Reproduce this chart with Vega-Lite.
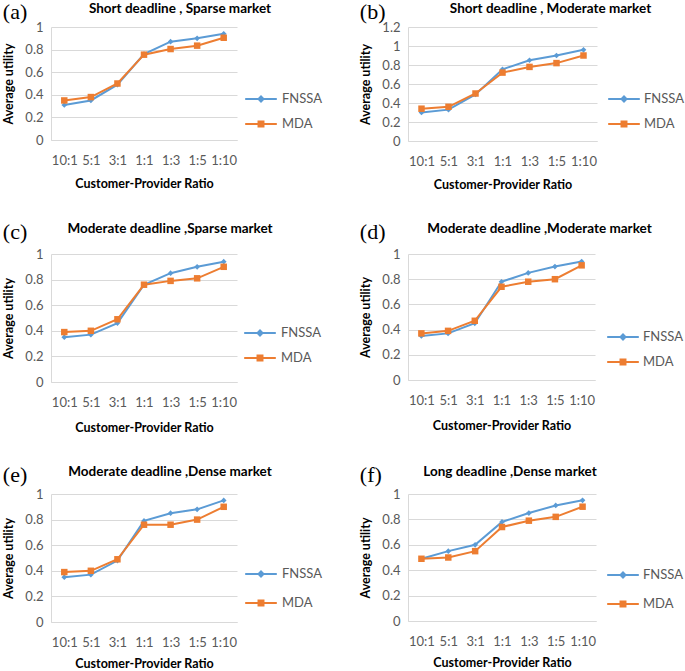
{
  "$schema": "https://vega.github.io/schema/vega-lite/v6.json",
  "background": "white",
  "padding": {"left": 2, "top": 0, "right": 0, "bottom": 0},
  "datasets": {
    "a": [
      {"ratio": "10:1", "method": "FNSSA", "utility": 0.31}, {"ratio": "5:1", "method": "FNSSA", "utility": 0.35}, {"ratio": "3:1", "method": "FNSSA", "utility": 0.49}, {"ratio": "1:1", "method": "FNSSA", "utility": 0.76}, {"ratio": "1:3", "method": "FNSSA", "utility": 0.87}, {"ratio": "1:5", "method": "FNSSA", "utility": 0.90}, {"ratio": "1:10", "method": "FNSSA", "utility": 0.94},
      {"ratio": "10:1", "method": "MDA", "utility": 0.35}, {"ratio": "5:1", "method": "MDA", "utility": 0.38}, {"ratio": "3:1", "method": "MDA", "utility": 0.50}, {"ratio": "1:1", "method": "MDA", "utility": 0.755}, {"ratio": "1:3", "method": "MDA", "utility": 0.805}, {"ratio": "1:5", "method": "MDA", "utility": 0.835}, {"ratio": "1:10", "method": "MDA", "utility": 0.905}
    ],
    "b": [
      {"ratio": "10:1", "method": "FNSSA", "utility": 0.30}, {"ratio": "5:1", "method": "FNSSA", "utility": 0.33}, {"ratio": "3:1", "method": "FNSSA", "utility": 0.49}, {"ratio": "1:1", "method": "FNSSA", "utility": 0.755}, {"ratio": "1:3", "method": "FNSSA", "utility": 0.85}, {"ratio": "1:5", "method": "FNSSA", "utility": 0.90}, {"ratio": "1:10", "method": "FNSSA", "utility": 0.96},
      {"ratio": "10:1", "method": "MDA", "utility": 0.34}, {"ratio": "5:1", "method": "MDA", "utility": 0.36}, {"ratio": "3:1", "method": "MDA", "utility": 0.50}, {"ratio": "1:1", "method": "MDA", "utility": 0.72}, {"ratio": "1:3", "method": "MDA", "utility": 0.78}, {"ratio": "1:5", "method": "MDA", "utility": 0.82}, {"ratio": "1:10", "method": "MDA", "utility": 0.90}
    ],
    "c": [
      {"ratio": "10:1", "method": "FNSSA", "utility": 0.35}, {"ratio": "5:1", "method": "FNSSA", "utility": 0.37}, {"ratio": "3:1", "method": "FNSSA", "utility": 0.46}, {"ratio": "1:1", "method": "FNSSA", "utility": 0.76}, {"ratio": "1:3", "method": "FNSSA", "utility": 0.85}, {"ratio": "1:5", "method": "FNSSA", "utility": 0.90}, {"ratio": "1:10", "method": "FNSSA", "utility": 0.94},
      {"ratio": "10:1", "method": "MDA", "utility": 0.39}, {"ratio": "5:1", "method": "MDA", "utility": 0.40}, {"ratio": "3:1", "method": "MDA", "utility": 0.49}, {"ratio": "1:1", "method": "MDA", "utility": 0.76}, {"ratio": "1:3", "method": "MDA", "utility": 0.79}, {"ratio": "1:5", "method": "MDA", "utility": 0.81}, {"ratio": "1:10", "method": "MDA", "utility": 0.90}
    ],
    "d": [
      {"ratio": "10:1", "method": "FNSSA", "utility": 0.35}, {"ratio": "5:1", "method": "FNSSA", "utility": 0.37}, {"ratio": "3:1", "method": "FNSSA", "utility": 0.45}, {"ratio": "1:1", "method": "FNSSA", "utility": 0.78}, {"ratio": "1:3", "method": "FNSSA", "utility": 0.85}, {"ratio": "1:5", "method": "FNSSA", "utility": 0.90}, {"ratio": "1:10", "method": "FNSSA", "utility": 0.94},
      {"ratio": "10:1", "method": "MDA", "utility": 0.37}, {"ratio": "5:1", "method": "MDA", "utility": 0.39}, {"ratio": "3:1", "method": "MDA", "utility": 0.47}, {"ratio": "1:1", "method": "MDA", "utility": 0.74}, {"ratio": "1:3", "method": "MDA", "utility": 0.78}, {"ratio": "1:5", "method": "MDA", "utility": 0.80}, {"ratio": "1:10", "method": "MDA", "utility": 0.91}
    ],
    "e": [
      {"ratio": "10:1", "method": "FNSSA", "utility": 0.35}, {"ratio": "5:1", "method": "FNSSA", "utility": 0.37}, {"ratio": "3:1", "method": "FNSSA", "utility": 0.48}, {"ratio": "1:1", "method": "FNSSA", "utility": 0.79}, {"ratio": "1:3", "method": "FNSSA", "utility": 0.85}, {"ratio": "1:5", "method": "FNSSA", "utility": 0.88}, {"ratio": "1:10", "method": "FNSSA", "utility": 0.95},
      {"ratio": "10:1", "method": "MDA", "utility": 0.39}, {"ratio": "5:1", "method": "MDA", "utility": 0.40}, {"ratio": "3:1", "method": "MDA", "utility": 0.49}, {"ratio": "1:1", "method": "MDA", "utility": 0.76}, {"ratio": "1:3", "method": "MDA", "utility": 0.76}, {"ratio": "1:5", "method": "MDA", "utility": 0.80}, {"ratio": "1:10", "method": "MDA", "utility": 0.90}
    ],
    "f": [
      {"ratio": "10:1", "method": "FNSSA", "utility": 0.49}, {"ratio": "5:1", "method": "FNSSA", "utility": 0.55}, {"ratio": "3:1", "method": "FNSSA", "utility": 0.60}, {"ratio": "1:1", "method": "FNSSA", "utility": 0.78}, {"ratio": "1:3", "method": "FNSSA", "utility": 0.85}, {"ratio": "1:5", "method": "FNSSA", "utility": 0.91}, {"ratio": "1:10", "method": "FNSSA", "utility": 0.95},
      {"ratio": "10:1", "method": "MDA", "utility": 0.49}, {"ratio": "5:1", "method": "MDA", "utility": 0.50}, {"ratio": "3:1", "method": "MDA", "utility": 0.55}, {"ratio": "1:1", "method": "MDA", "utility": 0.74}, {"ratio": "1:3", "method": "MDA", "utility": 0.79}, {"ratio": "1:5", "method": "MDA", "utility": 0.82}, {"ratio": "1:10", "method": "MDA", "utility": 0.90}
    ]
  },
  "columns": 2,
  "spacing": {"column": 20, "row": 29},
  "resolve": {"scale": {"x": "independent", "y": "independent", "color": "independent", "shape": "independent", "stroke": "independent", "fill": "independent"}, "legend": {"color": "independent", "shape": "independent"}},
  "concat": [
    {
      "title": {"text": "(a)", "anchor": "start", "frame": "bounds", "font": "Liberation Serif", "fontSize": 22, "fontWeight": "normal", "offset": -22},
      "resolve": {"legend": {"color": "independent", "shape": "independent"}},
      "vconcat": [{
        "width": 186, "height": 113,
        "title": {"text": "Short deadline , Sparse market", "dx": 36, "offset": 6},
        "data": {"name": "a"},
        "encoding": {
          "x": {"field": "ratio", "type": "ordinal", "sort": ["10:1", "5:1", "3:1", "1:1", "1:3", "1:5", "1:10"], "scale": {"type": "point", "padding": 0.5}, "axis": {"title": "Customer-Provider Ratio", "labelAngle": 0, "labelPadding": 14, "titlePadding": 10, "grid": false}},
          "y": {"field": "utility", "type": "quantitative", "scale": {"domain": [0, 1]}, "axis": {"title": "Average utility", "values": [0, 0.2, 0.4, 0.6, 0.8, 1], "format": "~g", "labelPadding": 8, "titlePadding": 9}}
        },
        "layer": [
          {"mark": {"type": "line", "strokeWidth": 2}, "encoding": {"stroke": {"field": "method", "type": "nominal", "scale": {"range": ["#5B9BD5", "#ED7D31"]}, "legend": null}}},
          {"transform": [{"filter": "datum.method === 'FNSSA'"}], "mark": {"type": "point", "filled": true, "opacity": 1, "shape": "diamond", "size": 32}, "encoding": {"fill": {"field": "method", "type": "nominal", "scale": {"range": ["#5B9BD5", "#ED7D31"]}, "legend": null}}},
          {"transform": [{"filter": "datum.method === 'MDA'"}], "mark": {"type": "point", "filled": true, "opacity": 1, "shape": "square", "size": 42}, "encoding": {"fill": {"field": "method", "type": "nominal", "scale": {"range": ["#5B9BD5", "#ED7D31"]}, "legend": null}}},
          {"mark": {"type": "point", "filled": true, "opacity": 0}, "encoding": {
            "color": {"field": "method", "type": "nominal", "scale": {"domain": ["FNSSA", "MDA"], "range": ["#5B9BD5", "#ED7D31"]}, "legend": {"title": null, "symbolOpacity": 1, "symbolSize": 1000, "rowPadding": 1, "offset": -2, "labelOffset": 4, "padding": 9}},
            "shape": {"field": "method", "type": "nominal", "scale": {"domain": ["FNSSA", "MDA"], "range": ["M-1,-0.07H1V0.07H-1Z M0,-0.25L0.25,0L0,0.25L-0.25,0Z", "M-1,-0.07H1V0.07H-1Z M-0.22,-0.22H0.22V0.22H-0.22Z"]}, "legend": {"title": null, "symbolOpacity": 1, "symbolSize": 1000, "rowPadding": 1, "offset": -2, "labelOffset": 4, "padding": 9}}
          }}
        ]
      }]
    },
    {
      "title": {"text": "(b)", "anchor": "start", "frame": "bounds", "font": "Liberation Serif", "fontSize": 22, "fontWeight": "normal", "offset": -22},
      "resolve": {"legend": {"color": "independent", "shape": "independent"}},
      "vconcat": [{
        "width": 189, "height": 114,
        "title": {"text": "Short deadline , Moderate market", "dx": 48, "offset": 6},
        "data": {"name": "b"},
        "encoding": {
          "x": {"field": "ratio", "type": "ordinal", "sort": ["10:1", "5:1", "3:1", "1:1", "1:3", "1:5", "1:10"], "scale": {"type": "point", "padding": 0.5}, "axis": {"title": "Customer-Provider Ratio", "labelAngle": 0, "labelPadding": 14, "titlePadding": 10, "grid": false}},
          "y": {"field": "utility", "type": "quantitative", "scale": {"domain": [0, 1.2]}, "axis": {"title": "Average utility", "values": [0, 0.2, 0.4, 0.6, 0.8, 1, 1.2], "format": "~g", "labelPadding": 8, "titlePadding": 9}}
        },
        "layer": [
          {"mark": {"type": "line", "strokeWidth": 2}, "encoding": {"stroke": {"field": "method", "type": "nominal", "scale": {"range": ["#5B9BD5", "#ED7D31"]}, "legend": null}}},
          {"transform": [{"filter": "datum.method === 'FNSSA'"}], "mark": {"type": "point", "filled": true, "opacity": 1, "shape": "diamond", "size": 32}, "encoding": {"fill": {"field": "method", "type": "nominal", "scale": {"range": ["#5B9BD5", "#ED7D31"]}, "legend": null}}},
          {"transform": [{"filter": "datum.method === 'MDA'"}], "mark": {"type": "point", "filled": true, "opacity": 1, "shape": "square", "size": 42}, "encoding": {"fill": {"field": "method", "type": "nominal", "scale": {"range": ["#5B9BD5", "#ED7D31"]}, "legend": null}}},
          {"mark": {"type": "point", "filled": true, "opacity": 0}, "encoding": {
            "color": {"field": "method", "type": "nominal", "scale": {"domain": ["FNSSA", "MDA"], "range": ["#5B9BD5", "#ED7D31"]}, "legend": {"title": null, "symbolOpacity": 1, "symbolSize": 1000, "rowPadding": 1, "offset": 0, "labelOffset": 3, "padding": 10}},
            "shape": {"field": "method", "type": "nominal", "scale": {"domain": ["FNSSA", "MDA"], "range": ["M-1,-0.07H1V0.07H-1Z M0,-0.25L0.25,0L0,0.25L-0.25,0Z", "M-1,-0.07H1V0.07H-1Z M-0.22,-0.22H0.22V0.22H-0.22Z"]}, "legend": {"title": null, "symbolOpacity": 1, "symbolSize": 1000, "rowPadding": 1, "offset": 0, "labelOffset": 3, "padding": 10}}
          }}
        ]
      }]
    },
    {
      "title": {"text": "(c)", "anchor": "start", "frame": "bounds", "font": "Liberation Serif", "fontSize": 22, "fontWeight": "normal", "offset": -22},
      "resolve": {"legend": {"color": "independent", "shape": "independent"}},
      "vconcat": [{
        "width": 186, "height": 128,
        "title": {"text": "Moderate deadline ,Sparse  market", "dx": 26, "offset": 13},
        "data": {"name": "c"},
        "encoding": {
          "x": {"field": "ratio", "type": "ordinal", "sort": ["10:1", "5:1", "3:1", "1:1", "1:3", "1:5", "1:10"], "scale": {"type": "point", "padding": 0.5}, "axis": {"title": "Customer-Provider Ratio", "labelAngle": 0, "labelPadding": 14, "titlePadding": 12, "grid": false}},
          "y": {"field": "utility", "type": "quantitative", "scale": {"domain": [0, 1]}, "axis": {"title": "Average utility", "values": [0, 0.2, 0.4, 0.6, 0.8, 1], "format": "~g", "labelPadding": 8, "titlePadding": 9}}
        },
        "layer": [
          {"mark": {"type": "line", "strokeWidth": 2}, "encoding": {"stroke": {"field": "method", "type": "nominal", "scale": {"range": ["#5B9BD5", "#ED7D31"]}, "legend": null}}},
          {"transform": [{"filter": "datum.method === 'FNSSA'"}], "mark": {"type": "point", "filled": true, "opacity": 1, "shape": "diamond", "size": 32}, "encoding": {"fill": {"field": "method", "type": "nominal", "scale": {"range": ["#5B9BD5", "#ED7D31"]}, "legend": null}}},
          {"transform": [{"filter": "datum.method === 'MDA'"}], "mark": {"type": "point", "filled": true, "opacity": 1, "shape": "square", "size": 42}, "encoding": {"fill": {"field": "method", "type": "nominal", "scale": {"range": ["#5B9BD5", "#ED7D31"]}, "legend": null}}},
          {"mark": {"type": "point", "filled": true, "opacity": 0}, "encoding": {
            "color": {"field": "method", "type": "nominal", "scale": {"domain": ["FNSSA", "MDA"], "range": ["#5B9BD5", "#ED7D31"]}, "legend": {"title": null, "symbolOpacity": 1, "symbolSize": 1000, "rowPadding": 1, "offset": -11, "labelOffset": 4, "padding": 17}},
            "shape": {"field": "method", "type": "nominal", "scale": {"domain": ["FNSSA", "MDA"], "range": ["M-1,-0.07H1V0.07H-1Z M0,-0.25L0.25,0L0,0.25L-0.25,0Z", "M-1,-0.07H1V0.07H-1Z M-0.22,-0.22H0.22V0.22H-0.22Z"]}, "legend": {"title": null, "symbolOpacity": 1, "symbolSize": 1000, "rowPadding": 1, "offset": -11, "labelOffset": 4, "padding": 17}}
          }}
        ]
      }]
    },
    {
      "title": {"text": "(d)", "anchor": "start", "frame": "bounds", "font": "Liberation Serif", "fontSize": 22, "fontWeight": "normal", "offset": -22},
      "resolve": {"legend": {"color": "independent", "shape": "independent"}},
      "vconcat": [{
        "width": 187, "height": 126,
        "title": {"text": "Moderate deadline ,Moderate  market", "dx": 38, "offset": 13},
        "data": {"name": "d"},
        "encoding": {
          "x": {"field": "ratio", "type": "ordinal", "sort": ["10:1", "5:1", "3:1", "1:1", "1:3", "1:5", "1:10"], "scale": {"type": "point", "padding": 0.5}, "axis": {"title": "Customer-Provider Ratio", "labelAngle": 0, "labelPadding": 14, "titlePadding": 12, "grid": false}},
          "y": {"field": "utility", "type": "quantitative", "scale": {"domain": [0, 1]}, "axis": {"title": "Average utility", "values": [0, 0.2, 0.4, 0.6, 0.8, 1], "format": "~g", "labelPadding": 8, "titlePadding": 9}}
        },
        "layer": [
          {"mark": {"type": "line", "strokeWidth": 2}, "encoding": {"stroke": {"field": "method", "type": "nominal", "scale": {"range": ["#5B9BD5", "#ED7D31"]}, "legend": null}}},
          {"transform": [{"filter": "datum.method === 'FNSSA'"}], "mark": {"type": "point", "filled": true, "opacity": 1, "shape": "diamond", "size": 32}, "encoding": {"fill": {"field": "method", "type": "nominal", "scale": {"range": ["#5B9BD5", "#ED7D31"]}, "legend": null}}},
          {"transform": [{"filter": "datum.method === 'MDA'"}], "mark": {"type": "point", "filled": true, "opacity": 1, "shape": "square", "size": 42}, "encoding": {"fill": {"field": "method", "type": "nominal", "scale": {"range": ["#5B9BD5", "#ED7D31"]}, "legend": null}}},
          {"mark": {"type": "point", "filled": true, "opacity": 0}, "encoding": {
            "color": {"field": "method", "type": "nominal", "scale": {"domain": ["FNSSA", "MDA"], "range": ["#5B9BD5", "#ED7D31"]}, "legend": {"title": null, "symbolOpacity": 1, "symbolSize": 1000, "rowPadding": 1, "offset": 0, "labelOffset": 3, "padding": 11}},
            "shape": {"field": "method", "type": "nominal", "scale": {"domain": ["FNSSA", "MDA"], "range": ["M-1,-0.07H1V0.07H-1Z M0,-0.25L0.25,0L0,0.25L-0.25,0Z", "M-1,-0.07H1V0.07H-1Z M-0.22,-0.22H0.22V0.22H-0.22Z"]}, "legend": {"title": null, "symbolOpacity": 1, "symbolSize": 1000, "rowPadding": 1, "offset": 0, "labelOffset": 3, "padding": 11}}
          }}
        ]
      }]
    },
    {
      "title": {"text": "(e)", "anchor": "start", "frame": "bounds", "font": "Liberation Serif", "fontSize": 22, "fontWeight": "normal", "offset": -22},
      "resolve": {"legend": {"color": "independent", "shape": "independent"}},
      "vconcat": [{
        "width": 186, "height": 128,
        "title": {"text": "Moderate deadline ,Dense  market", "dx": 26, "offset": 10},
        "data": {"name": "e"},
        "encoding": {
          "x": {"field": "ratio", "type": "ordinal", "sort": ["10:1", "5:1", "3:1", "1:1", "1:3", "1:5", "1:10"], "scale": {"type": "point", "padding": 0.5}, "axis": {"title": "Customer-Provider Ratio", "labelAngle": 0, "labelPadding": 14, "titlePadding": 8, "grid": false}},
          "y": {"field": "utility", "type": "quantitative", "scale": {"domain": [0, 1]}, "axis": {"title": "Average utility", "values": [0, 0.2, 0.4, 0.6, 0.8, 1], "format": "~g", "labelPadding": 8, "titlePadding": 9}}
        },
        "layer": [
          {"mark": {"type": "line", "strokeWidth": 2}, "encoding": {"stroke": {"field": "method", "type": "nominal", "scale": {"range": ["#5B9BD5", "#ED7D31"]}, "legend": null}}},
          {"transform": [{"filter": "datum.method === 'FNSSA'"}], "mark": {"type": "point", "filled": true, "opacity": 1, "shape": "diamond", "size": 32}, "encoding": {"fill": {"field": "method", "type": "nominal", "scale": {"range": ["#5B9BD5", "#ED7D31"]}, "legend": null}}},
          {"transform": [{"filter": "datum.method === 'MDA'"}], "mark": {"type": "point", "filled": true, "opacity": 1, "shape": "square", "size": 42}, "encoding": {"fill": {"field": "method", "type": "nominal", "scale": {"range": ["#5B9BD5", "#ED7D31"]}, "legend": null}}},
          {"mark": {"type": "point", "filled": true, "opacity": 0}, "encoding": {
            "color": {"field": "method", "type": "nominal", "scale": {"domain": ["FNSSA", "MDA"], "range": ["#5B9BD5", "#ED7D31"]}, "legend": {"title": null, "symbolOpacity": 1, "symbolSize": 1000, "rowPadding": 5, "offset": -5, "labelOffset": 4, "padding": 12}},
            "shape": {"field": "method", "type": "nominal", "scale": {"domain": ["FNSSA", "MDA"], "range": ["M-1,-0.07H1V0.07H-1Z M0,-0.25L0.25,0L0,0.25L-0.25,0Z", "M-1,-0.07H1V0.07H-1Z M-0.22,-0.22H0.22V0.22H-0.22Z"]}, "legend": {"title": null, "symbolOpacity": 1, "symbolSize": 1000, "rowPadding": 5, "offset": -5, "labelOffset": 4, "padding": 12}}
          }}
        ]
      }]
    },
    {
      "title": {"text": "(f)", "anchor": "start", "frame": "bounds", "font": "Liberation Serif", "fontSize": 22, "fontWeight": "normal", "offset": -22},
      "resolve": {"legend": {"color": "independent", "shape": "independent"}},
      "vconcat": [{
        "width": 188, "height": 127,
        "title": {"text": "Long deadline ,Dense  market", "dx": 8, "offset": 10},
        "data": {"name": "f"},
        "encoding": {
          "x": {"field": "ratio", "type": "ordinal", "sort": ["10:1", "5:1", "3:1", "1:1", "1:3", "1:5", "1:10"], "scale": {"type": "point", "padding": 0.5}, "axis": {"title": "Customer-Provider Ratio", "labelAngle": 0, "labelPadding": 14, "titlePadding": 8, "grid": false}},
          "y": {"field": "utility", "type": "quantitative", "scale": {"domain": [0, 1]}, "axis": {"title": "Average utility", "values": [0, 0.2, 0.4, 0.6, 0.8, 1], "format": "~g", "labelPadding": 8, "titlePadding": 9}}
        },
        "layer": [
          {"mark": {"type": "line", "strokeWidth": 2}, "encoding": {"stroke": {"field": "method", "type": "nominal", "scale": {"range": ["#5B9BD5", "#ED7D31"]}, "legend": null}}},
          {"transform": [{"filter": "datum.method === 'FNSSA'"}], "mark": {"type": "point", "filled": true, "opacity": 1, "shape": "diamond", "size": 32}, "encoding": {"fill": {"field": "method", "type": "nominal", "scale": {"range": ["#5B9BD5", "#ED7D31"]}, "legend": null}}},
          {"transform": [{"filter": "datum.method === 'MDA'"}], "mark": {"type": "point", "filled": true, "opacity": 1, "shape": "square", "size": 42}, "encoding": {"fill": {"field": "method", "type": "nominal", "scale": {"range": ["#5B9BD5", "#ED7D31"]}, "legend": null}}},
          {"mark": {"type": "point", "filled": true, "opacity": 0}, "encoding": {
            "color": {"field": "method", "type": "nominal", "scale": {"domain": ["FNSSA", "MDA"], "range": ["#5B9BD5", "#ED7D31"]}, "legend": {"title": null, "symbolOpacity": 1, "symbolSize": 1000, "rowPadding": 5, "offset": 0, "labelOffset": 3, "padding": 10}},
            "shape": {"field": "method", "type": "nominal", "scale": {"domain": ["FNSSA", "MDA"], "range": ["M-1,-0.07H1V0.07H-1Z M0,-0.25L0.25,0L0,0.25L-0.25,0Z", "M-1,-0.07H1V0.07H-1Z M-0.22,-0.22H0.22V0.22H-0.22Z"]}, "legend": {"title": null, "symbolOpacity": 1, "symbolSize": 1000, "rowPadding": 5, "offset": 0, "labelOffset": 3, "padding": 10}}
          }}
        ]
      }]
    }
  ],
  "config": {
    "view": {"stroke": null},
    "font": "Lato",
    "axis": {"labelFont": "Lato", "labelFontSize": 13, "labelColor": "#595959", "titleFont": "Lato", "titleFontSize": 12.5, "titleFontWeight": "bold", "titleColor": "#000000", "ticks": false, "domainColor": "#d9d9d9", "gridColor": "#d9d9d9", "gridWidth": 1},
    "legend": {"labelFont": "Lato", "labelFontSize": 13, "labelColor": "#595959", "layout": {"right": {"anchor": "end"}}},
    "title": {"font": "Lato", "fontSize": 13.5, "fontWeight": "bold", "color": "#000000"}
  }
}
